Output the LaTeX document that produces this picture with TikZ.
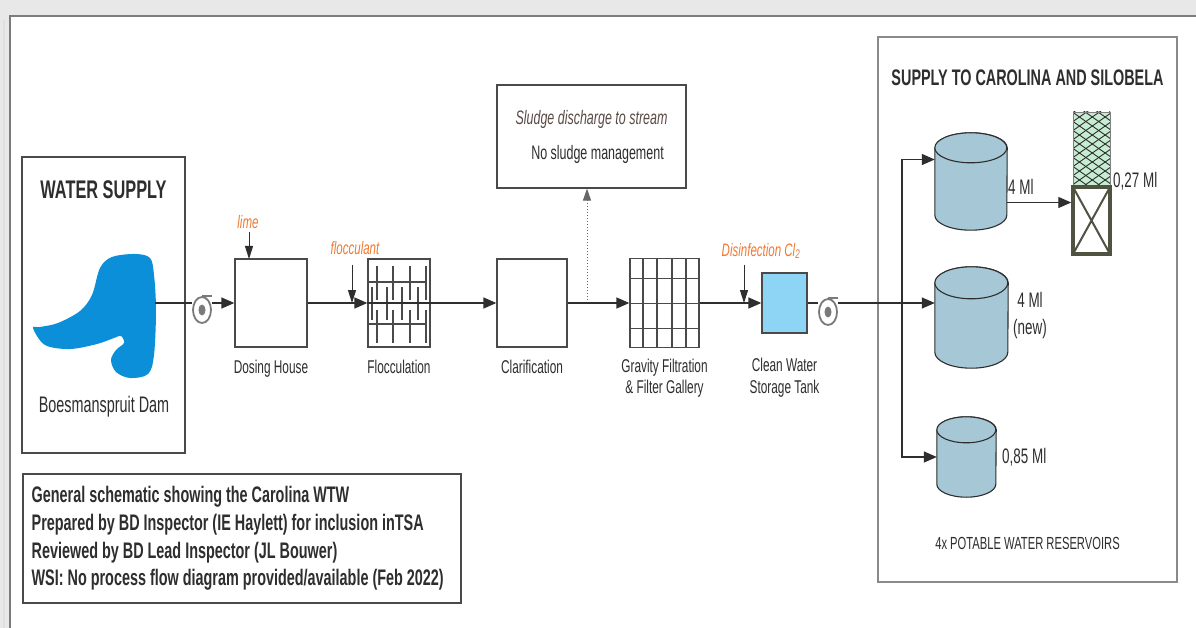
\documentclass[tikz,border=0pt]{standalone}
\usepackage{fontspec}
\setmainfont{Liberation Sans}[FakeStretch=0.64]
\usetikzlibrary{positioning,arrows.meta,shapes.geometric}

\definecolor{ink}{HTML}{2E2E2E}
\definecolor{boxline}{HTML}{4A4A4A}
\definecolor{paneledge}{HTML}{8A8A8A}
\definecolor{outerbg}{HTML}{E8E8E8}
\definecolor{framegray}{HTML}{7C7C7C}
\definecolor{chemorange}{HTML}{F07A32}
\definecolor{sludgetext}{HTML}{5A4A44}
\definecolor{damblue}{HTML}{0B8FD8}
\definecolor{cleanblue}{HTML}{8ED4F5}
\definecolor{tankblue}{HTML}{A6C7D6}
\definecolor{mint}{HTML}{C6ECD2}
\definecolor{olive}{HTML}{505242}
\definecolor{pumpgray}{HTML}{7A7A7A}

\tikzset{
  unit/.style={draw=boxline, line width=1.3pt, fill=white, inner sep=0pt},
  panel/.style={draw=boxline, line width=1.1pt, inner sep=0pt},
  heading/.style={text=ink, inner sep=0pt, font=\fontsize{25.5}{28}\selectfont\bfseries},
  lbl/.style={text=ink, inner sep=0pt, align=center, font=\fontsize{18.5}{21}\selectfont},
  tanklbl/.style={lbl, font=\fontsize{21}{27}\selectfont},
  chem/.style={text=chemorange, inner sep=0pt, font=\fontsize{18}{20}\selectfont\itshape},
  notetext/.style={text=ink, inner sep=0pt, align=left, font=\fontsize{22.5}{27.8}\selectfont\bfseries},
  mainline/.style={draw=ink, line width=1.3pt},
  flow/.style={mainline, -{Triangle[length=13pt,width=11pt]}},
  feed/.style={draw=ink, line width=1pt, -{Triangle[length=13pt,width=8pt]}},
  sludgeflow/.style={draw=gray!80!black, line width=1pt, dotted, -{Triangle[length=12pt,width=8pt]}},
  baffle/.style={draw=boxline, line width=1.2pt},
  gridline/.style={draw=boxline, line width=1.2pt},
  pump/.style={ellipse, draw=pumpgray, line width=1.8pt, fill=white, inner sep=0pt,
    minimum width=18pt, minimum height=26pt,
    path picture={\fill[pumpgray] (path picture bounding box.center) ellipse [x radius=3.5pt, y radius=5.5pt];}},
  pumpline/.style={draw=pumpgray, line width=1.6pt},
  reservoir/.style={inner sep=0pt},
  tankedge/.style={fill=tankblue, draw=ink, line width=1.1pt},
  towertop/.style={fill=mint, draw=gray, line width=0.6pt, inner sep=0pt,
    minimum width=37pt, minimum height=73pt,
    path picture={
      \foreach \k in {-90,-81,...,90} {
        \draw[ink, line width=0.9pt] ([yshift=\k pt]path picture bounding box.west) -- ++(40pt,28pt);
        \draw[ink, line width=0.9pt] ([yshift=\k pt]path picture bounding box.west) -- ++(40pt,-28pt);
      }}},
  towerbase/.style={fill=white, draw=olive, line width=3.5pt, inner sep=0pt,
    minimum width=37pt, minimum height=67pt,
    path picture={
      \draw[olive, line width=2pt] (path picture bounding box.north west) -- (path picture bounding box.south east)
        (path picture bounding box.north east) -- (path picture bounding box.south west);}},
}

% cylinder drawn round an empty node: #1 node, #2 x radius, #3 y radius
\newcommand{\drawtank}[3]{%
  \filldraw[tankedge] ([yshift=-#3]#1.north west) -- ([yshift=#3]#1.south west)
    arc[start angle=180, end angle=360, x radius=#2, y radius=#3]
    -- ([yshift=-#3]#1.north east)
    arc[start angle=0, end angle=180, x radius=#2, y radius=#3] -- cycle;
  \draw[tankedge] ([yshift=-#3]#1.north west)
    arc[start angle=180, end angle=-180, x radius=#2, y radius=#3];
}

\begin{document}
\begin{tikzpicture}[x=1pt, y=-1pt]
\useasboundingbox (0,0) rectangle (1196,628);

% page frame
\fill[outerbg] (0,0) rectangle (1196,628);
\draw[gray!25, line width=2pt] (4,20) -- (4,628);
\filldraw[fill=white, draw=framegray, line width=2.5pt] (10,16) rectangle (1220,650);

% raw water source
\node[panel, minimum width=163, minimum height=296] (source) at (103.5,305) {};
\node[heading, below=24pt of source.north] (sourcetitle) {WATER SUPPLY};
\fill[damblue] plot[smooth cycle, tension=0.55] coordinates {
  (33,328) (45,345) (70,349) (97,344) (114,338) (121,336) (124,343)
  (116,350) (111,360) (116,372) (130,378) (148,374) (154,355) (156,310)
  (154,275) (150,258) (135,254) (112,257) (100,268) (92,295) (80,311)
  (58,323) (40,327)};
\coordinate (damout) at (155,303);
\node[lbl, font=\fontsize{22.5}{26}\selectfont] (damname) at (104,407) {Boesmanspruit Dam};

% treatment units
\node[unit, minimum width=72, minimum height=88] (dosing) at (271,303) {};
\node[unit, minimum width=62, minimum height=88] (floc) at (399,303) {};
\node[unit, minimum width=70, minimum height=88] (clar) at (532,303) {};
\node[unit, minimum width=69, minimum height=89] (filter) at (664.5,303) {};
\node[unit, fill=cleanblue, minimum width=45, minimum height=60] (storage) at (784.5,303) {};

\node[lbl, below=12pt of dosing] (dosinglbl) {Dosing House};
\node[lbl, below=12pt of floc] (floclbl) {Flocculation};
\node[lbl, below=12pt of clar] (clarlbl) {Clarification};
\node[lbl, below=11pt of filter] (filterlbl) {Gravity Filtration\\\& Filter Gallery};
\node[lbl, font=\fontsize{18.5}{22}\selectfont, below=24pt of storage] (storagelbl) {Clean Water\\Storage Tank};

% baffles in the flocculator
\begin{scope}[shift={(floc.center)}]
  \foreach \yy in {-21,21} \draw[baffle] (-30,\yy) -- (28,\yy);
  \foreach \xx in {-22,-6,11,27} {
    \draw[baffle] (\xx,-37) -- (\xx,-3);
    \draw[baffle] (\xx,7) -- (\xx,40);
  }
  \foreach \xx in {-27,-12,3,19} \draw[baffle] (\xx,-16) -- (\xx,17);
\end{scope}

% filter cells
\begin{scope}[shift={(filter.center)}]
  \foreach \xx in {-21.5,-7.5,7.5,21.5} \draw[gridline] (\xx,-44.5) -- (\xx,44.5);
  \foreach \yy in {-24.5,0.5,25.5} \draw[gridline] (-34.5,\yy) -- (34.5,\yy);
\end{scope}

% sludge
\node[panel, minimum width=189, minimum height=103, align=center, text=ink,
  font=\fontsize{19.5}{35}\selectfont] (sludge) at (591.5,136.5)
  {\textcolor{sludgetext}{\itshape Sludge discharge to stream}\\\hspace*{12pt}No sludge management};
\coordinate (drain) at (587,303);
\draw[sludgeflow] (drain) -- (drain |- sludge.south);

% chemical dosing
\node[chem] (lime) at (248,222) {lime};
\coordinate (limein) at (249,259);
\draw[feed] (limein) ++(0,-27) -- (limein);
\node[chem] (flocc) at (355,248) {flocculant};
\coordinate (floccin) at (352,303);
\draw[feed] (floccin) ++(0,-38) -- (floccin);
\node[chem] (chlorine) at (761,251) {Disinfection Cl\textsubscript{2}};
\coordinate (chlorin) at (744,303);
\draw[feed] (chlorin) ++(0,-38) -- (chlorin);

% pumps
\node[pump] (pumpA) at (202,310) {};
\node[pump] (pumpB) at (828,312) {};
\draw[pumpline] (pumpA.north) -- ++(10,0);
\draw[pumpline] (pumpB.north) -- ++(10,0);

% supply side
\node[panel, draw=paneledge, minimum width=299, minimum height=545] (town) at (1027.5,309.5) {};
\node[heading, font=\fontsize{22.5}{26}\selectfont\bfseries, below=33pt of town.north] (towntitle) {SUPPLY TO CAROLINA AND SILOBELA};
\node[lbl, font=\fontsize{17.5}{20}\selectfont, above=33pt of town.south] (potable) {4x POTABLE WATER RESERVOIRS};

\node[reservoir, minimum width=72, minimum height=97] (res1) at (971,181.5) {};
\node[reservoir, minimum width=73, minimum height=101] (res2) at (971.5,317.5) {};
\node[reservoir, minimum width=59, minimum height=80] (res3) at (966.5,457) {};
\drawtank{res1}{36pt}{15pt}
\drawtank{res2}{36.5pt}{16pt}
\drawtank{res3}{29.5pt}{13pt}

\node[towertop] (towertop) at (1091.5,148.5) {};
\node[towerbase, below=0pt of towertop] (towerbase) {};

\node[tanklbl, anchor=west] (res1lbl) at (1008,187) {4 Ml};
\node[tanklbl] (res2lbl) at (1030,316) {4 Ml\\(new)};
\node[tanklbl, anchor=west] (res3lbl) at (1002,457) {0,85 Ml};
\node[tanklbl, anchor=west] (towerlbl) at (1113,181) {0,27 Ml};

% main flow line
\coordinate (split) at (902,303);
\draw[mainline] (damout) -- (damout -| pumpA.west);
\draw[flow] (pumpA.east |- dosing.west) -- (dosing.west);
\draw[flow] (dosing.east) -- (floc.west);
\draw[mainline] (floc.west) -- (floc.east);
\draw[flow] (floc.east) -- (clar.west);
\draw[flow] (clar.east) -- (filter.west);
\draw[flow] (filter.east) -- (storage.west);
\draw[mainline] (storage.east) -- (storage.east -| pumpB.west);
\draw[mainline] (pumpB.east |- storage.east) -- (split);
\draw[flow] (split) -- (split -| res2.west);
\coordinate (res1in) at ([yshift=22pt]res1.west);
\draw[flow] (split) |- (res1in);
\draw[flow] (split) |- (res3.west);
\coordinate (overflow) at ([yshift=-21pt]res1.east);
\draw[flow] (overflow) -- (overflow -| towerbase.west);

% notes
\node[panel, minimum width=438, minimum height=129] (notes) at (242,538.5) {};
\node[notetext, right=9pt of notes.west] (notestext) {General schematic showing the Carolina WTW\\
  Prepared by BD Inspector (IE Haylett) for inclusion inTSA\\
  Reviewed by BD Lead Inspector (JL Bouwer)\\
  WSI: No process flow diagram provided/available (Feb 2022)};
\end{tikzpicture}
\end{document}
